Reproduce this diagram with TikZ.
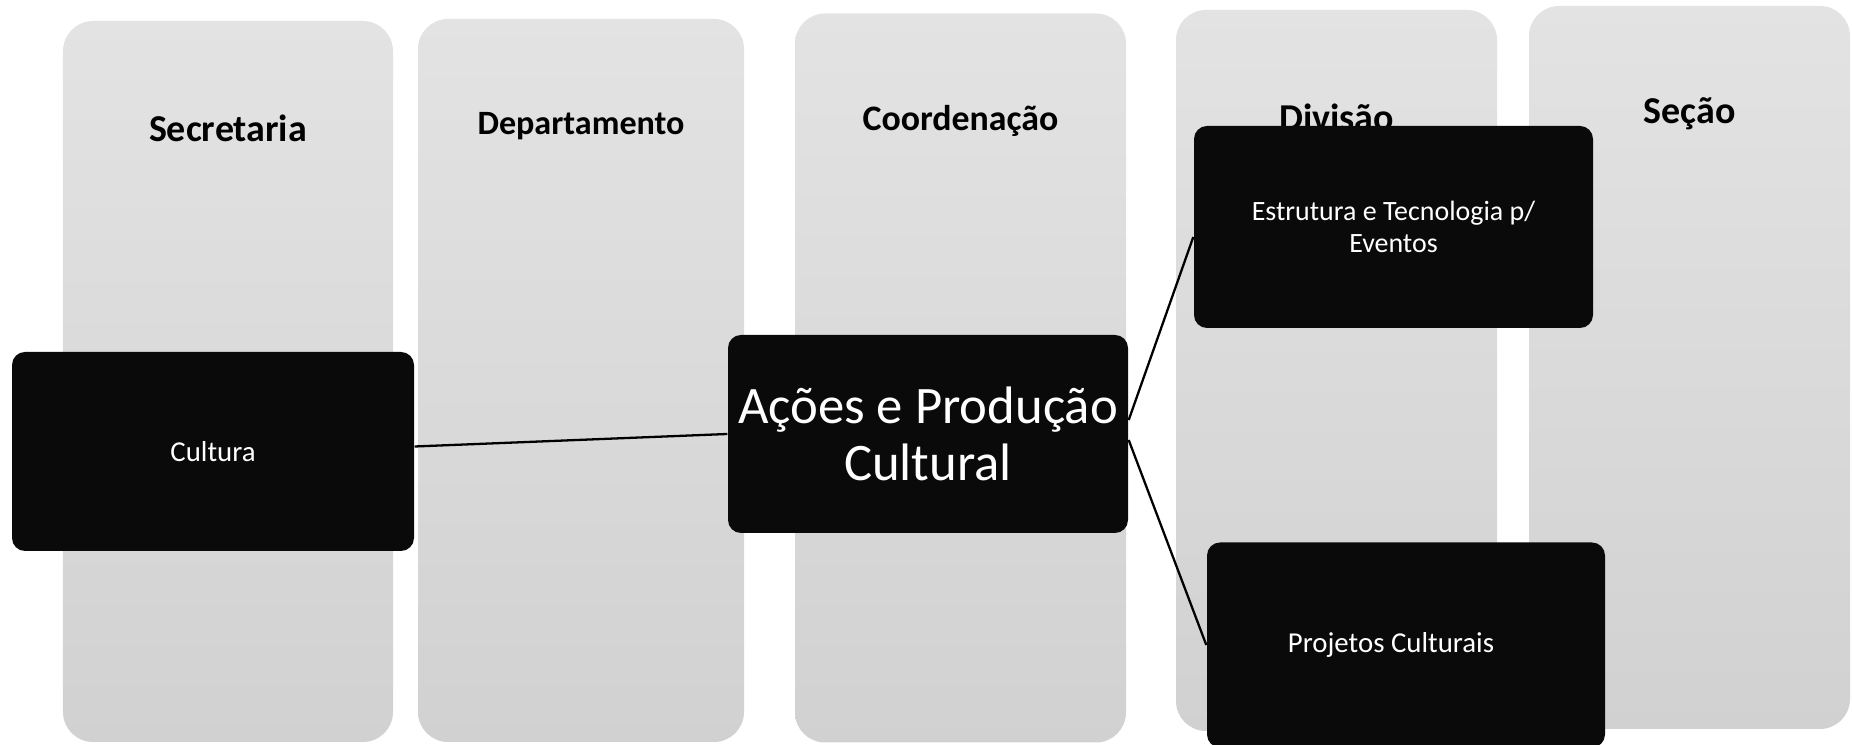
\documentclass[tikz,border=0pt]{standalone}
\usepackage{fontspec}
\setmainfont{Carlito}
\usetikzlibrary{positioning}
\tikzset{
  lane/.style={
    rectangle,
    rounded corners=0.3cm,
    top color=black!11,
    bottom color=black!18,
    draw=none,
    inner sep=0pt
  },
  lanetitle/.style={
    font=\bfseries\fontsize{10.8}{13}\selectfont,
    text=black
  },
  unit/.style={
    rectangle,
    rounded corners=0.13cm,
    fill=black!96,
    draw=none,
    text=white,
    align=center,
    inner sep=1mm,
    font=\fontsize{8.2}{9.2}\selectfont
  },
  link/.style={line width=0.65pt, black}
}
\begin{document}
\begin{tikzpicture}[x=1cm,y=1cm]

\useasboundingbox (0,0) rectangle (18.52,7.45);

% Colunas de nivel
\node[lane, minimum width=3.30cm, minimum height=7.21cm] (laneSec) at (2.28,3.635) {};
\node[lane, minimum width=3.26cm, minimum height=7.23cm] (laneDep) at (5.81,3.645) {};
\node[lane, minimum width=3.31cm, minimum height=7.29cm] (laneCoo) at (9.605,3.67) {};
\node[lane, minimum width=3.21cm, minimum height=7.21cm] (laneDiv) at (13.365,3.745) {};
\node[lane, minimum width=3.21cm, minimum height=7.23cm] (laneSee) at (16.895,3.775) {};

% Titulos das colunas
\node[lanetitle] (titSec) at ([yshift=-1.08cm]laneSec.north) {Secretaria};
\node[lanetitle, font=\bfseries\fontsize{9.7}{12}\selectfont] (titDep)
  at ([yshift=-1.08cm]laneDep.north) {Departamento};
\node[lanetitle, font=\bfseries\fontsize{10.2}{12.5}\selectfont] (titCoo)
  at ([yshift=-1.08cm]laneCoo.north) {Coordenação};
\node[lanetitle] (titDiv) at ([yshift=-1.08cm]laneDiv.north) {Divisão};
\node[lanetitle] (titSee) at ([yshift=-1.08cm]laneSee.north) {Seção};

% Unidades
\node[unit, minimum width=4.02cm, minimum height=1.99cm] (cultura) at (2.13,2.935)
  {Cultura};
\node[unit, minimum width=4.00cm, minimum height=1.98cm,
  font=\fontsize{15}{16.4}\selectfont] (acoes) at (9.28,3.11)
  {Ações e Produção\\Cultural};
\node[unit, minimum width=3.99cm, minimum height=2.02cm,
  font=\fontsize{7.95}{8.9}\selectfont] (estrutura) at (13.935,5.18)
  {Estrutura e Tecnologia p/\\Eventos};
\node[unit, minimum width=3.98cm, minimum height=2.05cm] (projetos) at (14.06,1.00)
  {Projetos Culturais\hspace*{0.3cm}};

% Ligacoes
\draw[link] ([yshift=0.05cm]cultura.east) -- (acoes.west);
\draw[link] ([yshift=0.14cm]acoes.east) -- ([yshift=-0.1cm]estrutura.west);
\draw[link] ([yshift=-0.06cm]acoes.east) -- (projetos.west);

\end{tikzpicture}
\end{document}
